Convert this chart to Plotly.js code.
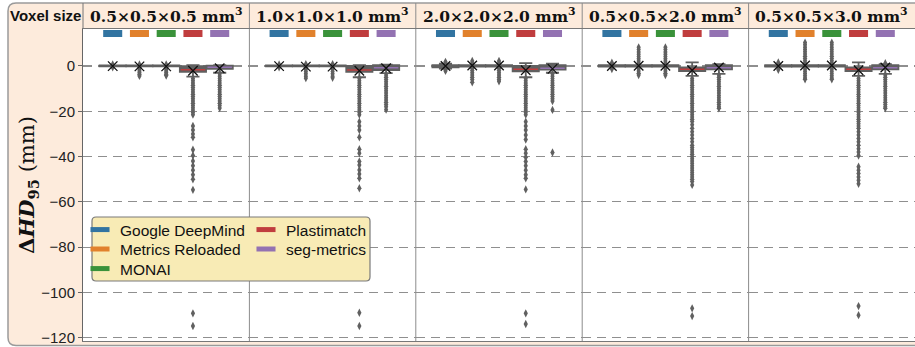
<!DOCTYPE html>
<html><head><meta charset="utf-8">
<script src="https://cdn.plot.ly/plotly-3.0.1.min.js"></script>
<style>html,body{margin:0;padding:0;background:#fff}</style>
</head><body>
<div id="chart" style="width:915px;height:347px"></div>
<script>
// ---------------- data ----------------
const tools = ['Google DeepMind', 'Metrics Reloaded', 'MONAI', 'Plastimatch', 'seg-metrics'];
const voxelSizes = ['0.5×0.5×0.5', '1.0×1.0×1.0', '2.0×2.0×2.0', '0.5×0.5×2.0', '0.5×0.5×3.0'];
const yTicks = [0, -20, -40, -60, -80, -100, -120];

// box statistics: one row per voxel size, one column per tool
const q1 = [
  [-0.2, -0.2, -0.2, -2.6, -1.3],
  [-0.2, -0.2, -0.2, -2.6, -1.8],
  [-0.6, -0.3, -0.3, -2.4, -1.6],
  [-0.3, -0.3, -0.3, -2.3, -1.5],
  [-0.3, -0.3, -0.3, -2.3, -1.5]];
const medians = [
  [0, 0, 0, -1.7, -0.6],
  [0, 0, 0, -1.8, -0.8],
  [0, 0, 0, -1.5, -1.0],
  [0, 0, 0, -1.5, -0.8],
  [0, 0, 0, -1.5, -0.8]];
const q3 = [
  [0.2, 0.2, 0.2, -0.1, 0.1],
  [0.2, 0.2, 0.2, 0.0, 0.4],
  [0.4, 0.3, 0.3, 0.0, 0.3],
  [0.3, 0.4, 0.4, -0.6, 0.3],
  [0.3, 0.4, 0.4, -0.6, 0.3]];
const lowerFence = [
  [-0.2, -0.2, -0.2, -4.7, -3.0],
  [-0.2, -0.2, -0.2, -5.0, -3.2],
  [-1.2, -0.3, -0.3, -5.0, -3.0],
  [-0.3, -0.3, -0.3, -4.4, -3.5],
  [-0.3, -0.3, -0.3, -4.4, -3.5]];
const upperFence = [
  [0.2, 0.2, 0.2, 0.3, 0.3],
  [0.2, 0.2, 0.2, 0.3, 0.6],
  [1.0, 0.3, 0.3, 1.2, 1.0],
  [0.3, 0.4, 0.4, 1.6, 0.8],
  [0.3, 0.4, 0.4, 1.6, 0.8]];
const means = [
  [-0.1, -0.2, -0.2, -2.1, -1.0],
  [-0.1, -0.3, -0.3, -2.1, -1.0],
  [0.0, 0.2, 0.2, -1.9, -1.3],
  [0.0, 0.1, 0.1, -1.9, -0.7],
  [0.0, 0.2, 0.2, -1.9, -0.7]];

// outliers (fliers): [voxel size][tool]
const outliers = [
  [ // 0.5x0.5x0.5
    [0.6, -0.6],
    [0.6, -0.6, -1.4, -2.2, -3.0, -3.8, -4.4],
    [0.6, -0.6, -1.4, -2.2, -3.0, -3.8, -4.2],
    [-5.5, -6.5, -7.5, -8.5, -9.5, -10.5, -11.5, -12.5, -13.5, -14.5, -15.5, -16.5, -17.5, -18.5, -19.5, -20.5, -21.5,
     -26.5, -28.3, -30.0, -31.5, -37.0, -39.5, -42.0, -44.0, -46.0, -48.0, -50.0, -54.7, -109.2, -114.8],
    [-3.5, -4.5, -5.5, -6.5, -7.5, -8.5, -9.5, -10.5, -11.5, -12.5, -13.5, -14.5, -15.5, -16.5, -17.5, -18.6]
  ],
  [ // 1.0x1.0x1.0
    [0.6, -0.6],
    [0.8, -0.6, -1.5, -2.5, -3.5, -4.5, -5.4],
    [0.8, -0.6, -1.5, -2.5, -3.5, -4.5, -5.2],
    [-5.5, -6.5, -7.5, -8.5, -9.5, -10.5, -11.5, -12.5, -13.5, -14.5, -15.5, -16.5, -17.5, -18.5, -19.5, -20.5, -21.5,
     -24.6, -26.5, -28.3, -31.5, -36.8, -38.5, -42.2, -43.7, -45.9, -47.7, -49.6, -54.0, -108.9, -114.8],
    [-4.0, -5.0, -6.0, -7.0, -8.0, -9.0, -10.0, -11.0, -12.0, -13.0, -14.0, -15.0, -16.0, -17.0, -18.0, -19.3]
  ],
  [ // 2.0x2.0x2.0
    [1.8, 1.2, -1.6, -2.2],
    [2.2, 1.2, -1.0, -2.0, -3.0, -4.0, -5.0, -6.0, -7.2],
    [2.2, 1.2, -1.0, -2.0, -3.0, -4.0, -5.0, -6.0, -6.8],
    [-5.5, -6.5, -7.5, -8.5, -9.5, -10.5, -11.5, -12.5, -13.5, -14.5, -15.5, -16.5, -17.5, -18.5, -19.5, -20.5, -21.5,
     -24.6, -26.5, -28.3, -30.5, -32.5, -36.8, -38.5, -40.3, -42.2, -44.0, -46.0, -48.0, -49.6, -54.5, -109.2, -113.9],
    [-3.5, -4.5, -5.5, -6.5, -7.5, -8.5, -9.5, -10.5, -11.5, -12.5, -13.5, -14.5, -15.5, -19.4, -38.2]
  ],
  [ // 0.5x0.5x2.0
    [1.4, 0.6, -0.6, -1.4],
    [8.2, 7.2, 6.2, 5.2, 4.2, 3.2, 2.2, 1.2, -1.2, -2.2, -3.2, -4.0],
    [8.2, 7.2, 6.2, 5.2, 4.2, 3.2, 2.2, 1.2, -1.2, -2.2, -3.2, -4.0],
    [-5.5, -6.5, -7.5, -8.5, -9.5, -10.5, -11.5, -12.5, -13.5, -14.5, -15.5, -16.5, -17.5, -18.5, -19.5, -20.5, -21.5,
     -22.5, -23.5, -24.5, -26.0, -27.5, -29.0, -30.5, -32.0, -33.5, -35.0, -36.0, -37.0, -38.0, -39.0, -40.0, -41.0,
     -42.0, -43.0, -44.0, -45.0, -46.0, -47.0, -48.0, -49.0, -50.0, -51.0, -52.5, -107.0, -110.4],
    [-4.0, -5.0, -6.0, -7.0, -8.0, -9.0, -10.0, -11.0, -12.0, -13.0, -14.0, -15.0, -16.0, -17.0, -18.0, -18.7]
  ],
  [ // 0.5x0.5x3.0
    [1.5, 0.5, -0.5, -1.7],
    [10.3, 9.3, 8.3, 7.3, 6.3, 5.3, 4.3, 3.3, 2.3, 1.3, -1.3, -2.3, -3.3, -4.3, -5.3, -5.9],
    [10.3, 9.3, 8.3, 7.3, 6.3, 5.3, 4.3, 3.3, 2.3, 1.3, -1.3, -2.3, -3.3, -4.3, -5.3, -5.9],
    [-5.5, -6.5, -7.5, -8.5, -9.5, -10.5, -11.5, -12.5, -13.5, -14.5, -15.5, -16.5, -17.5, -18.5, -19.5, -20.5, -21.5,
     -22.5, -23.5, -24.5, -25.5, -26.5, -27.5, -29.0, -30.5, -32.0, -33.5, -35.0, -36.5, -38.0, -39.5,
     -44.5, -46.0, -47.5, -49.0, -50.5, -52.0, -106.0, -110.0],
    [1.2, -4.0, -5.0, -6.0, -7.0, -8.0, -9.0, -10.0, -11.0, -12.0, -13.0, -14.0, -15.0, -16.0, -17.0, -18.0, -18.7]
  ]
];

// ---------------- styles ----------------
const toolColors = ['#3274a1', '#e1812c', '#3a923a', '#c03d3e', '#9372b2'];
const legendRow = ['legend', 'legend2', 'legend3', 'legend', 'legend2'];
const GREY = '#606060';
const PEACH = '#fdebdc';
const SANS = '"Liberation Sans", Arial, sans-serif';
const SERIF = '"DejaVu Serif", serif';

const W = 915, H = 347, L = 83, T = 29, B = 6, R = 0;
const pw = W - L - R, ph = H - T - B;
const px2x = px => (px - L) / pw;
const py2y = py => (H - B - py) / ph;
const RECT_Y = 14.3;

const traces = [];
const idx = [0, 1, 2, 3, 4];
voxelSizes.forEach((vs, p) => {
  const xa = p === 0 ? 'x' : 'x' + (p + 1);
  traces.push({
    type: 'box', xaxis: xa, yaxis: 'y', x: idx,
    q1: q1[p], median: medians[p], q3: q3[p],
    lowerfence: lowerFence[p], upperfence: upperFence[p],
    boxpoints: false, width: 0.98, whiskerwidth: 0.5,
    fillcolor: GREY, line: {color: GREY, width: 1.8},
    showlegend: false, hoverinfo: 'skip'
  });
  tools.forEach((tool, t) => {
    traces.push({
      type: 'scatter', mode: 'markers', xaxis: xa, yaxis: 'y',
      x: outliers[p][t].map(() => t), y: outliers[p][t],
      marker: {symbol: 'diamond-tall', size: 6, color: GREY, line: {width: 0}},
      showlegend: false, hoverinfo: 'skip'
    });
  });
  const medIdx = idx.filter(t => q3[p][t] - q1[p][t] > 1);
  traces.push({
    type: 'scatter', mode: 'markers', xaxis: xa, yaxis: 'y',
    x: medIdx, y: medIdx.map(t => medians[p][t]),
    marker: {symbol: 'line-ew', size: 17.5, color: medIdx.map(t => toolColors[t]),
             line: {width: 1.5, color: medIdx.map(t => toolColors[t])}},
    showlegend: false, hoverinfo: 'skip'
  });
  traces.push({
    type: 'scatter', mode: 'markers', xaxis: xa, yaxis: 'y',
    x: idx, y: means[p],
    marker: {symbol: 'x-thin-open', size: 9.5, color: '#111', line: {width: 1.3, color: '#111'}},
    showlegend: false, hoverinfo: 'skip'
  });
  tools.forEach((tool, t) => {
    traces.push({
      type: 'scatter', mode: 'markers', xaxis: xa, yaxis: 'y',
      x: [t], y: [RECT_Y], name: tool,
      marker: {symbol: 'line-ew', size: 13.6, color: toolColors[t], line: {width: 7, color: toolColors[t]}},
      showlegend: p === 0, legend: legendRow[t],
      hoverinfo: 'skip'
    });
  });
});

function roundRect(x0, y0, x1, y1, r) { // pixel coords -> paper path
  const rx = r / pw, ry = r / ph;
  const a = px2x(x0), b = px2x(x1), top = py2y(y0), bot = py2y(y1);
  return `M${a + rx},${top} L${b - rx},${top} Q${b},${top} ${b},${top - ry} L${b},${bot + ry} Q${b},${bot} ${b - rx},${bot} ` +
         `L${a + rx},${bot} Q${a},${bot} ${a},${bot + ry} L${a},${top - ry} Q${a},${top} ${a + rx},${top} Z`;
}

const shapes = [
  {type: 'path', xref: 'paper', yref: 'paper', layer: 'below', path: roundRect(8, 3, 925, 345.5, 8),
   fillcolor: PEACH, line: {color: '#9a9a9a', width: 1.5}},
  {type: 'rect', xref: 'paper', yref: 'paper', layer: 'below', x0: 0, x1: 1, y0: 0, y1: 1,
   fillcolor: '#ffffff', line: {width: 0}}
];
for (let p = 1; p < 5; p++) {
  shapes.push({type: 'line', xref: 'paper', yref: 'paper', layer: 'below', x0: p / 5, x1: p / 5, y0: 0, y1: py2y(3),
               line: {color: '#8c8c8c', width: 1}});
}
shapes.push({type: 'line', xref: 'paper', yref: 'paper', layer: 'below', x0: 0, x1: 0, y0: 1, y1: py2y(3),
             line: {color: '#777', width: 1}});
shapes.push({type: 'path', xref: 'paper', yref: 'paper', layer: 'above', path: roundRect(92, 217, 370, 281, 4),
             fillcolor: '#f8ebb5', line: {color: '#7a7a7a', width: 1.2}});

const annotations = [
  {text: 'Voxel size', xref: 'paper', yref: 'paper', x: px2x(45.5), y: py2y(16), xanchor: 'center', yanchor: 'middle',
   showarrow: false, font: {family: SANS, size: 15, color: '#111', weight: 'bold'}}
];
voxelSizes.forEach((vs, p) => {
  annotations.push({text: '<b>' + vs + ' mm<sup>3</sup></b>', xref: 'paper', yref: 'paper',
    x: (p + 0.5) / 5, y: py2y(16), xanchor: 'center', yanchor: 'middle', showarrow: false,
    font: {family: SERIF, size: 15.5, color: '#111'}});
});

const legendBase = {xanchor: 'left', yanchor: 'middle', orientation: 'h', bgcolor: 'rgba(0,0,0,0)', borderwidth: 0,
  font: {family: SANS, size: 15.5, color: '#111'}, itemsizing: 'trace', entrywidth: 121, entrywidthmode: 'pixels'};

const layout = {
  width: W, height: H,
  margin: {l: L, r: R, t: T, b: B, pad: 0, autoexpand: false},
  paper_bgcolor: '#ffffff', plot_bgcolor: 'rgba(0,0,0,0)',
  showlegend: true,
  yaxis: {
    range: [-121.4, 16.3], tickvals: yTicks, showgrid: true, gridcolor: '#8f8f8f', gridwidth: 1.2,
    griddash: '9px,6px', zeroline: false, showline: true, linecolor: '#666', linewidth: 1,
    ticks: 'outside', ticklen: 4, tickcolor: '#666', ticklabeloverflow: 'allow',
    tickfont: {family: SANS, size: 15, color: '#222'},
    title: {text: '<b>Δ<i>HD</i><sub>95</sub></b> (mm)', font: {family: SERIF, size: 21, color: '#111'}, standoff: 0},
    automargin: false, fixedrange: true
  },
  legend: Object.assign({x: px2x(80), y: py2y(230)}, legendBase),
  legend2: Object.assign({x: px2x(80), y: py2y(249.5)}, legendBase),
  legend3: Object.assign({x: px2x(80), y: py2y(269)}, legendBase),
  shapes: shapes, annotations: annotations
};
for (let p = 0; p < 5; p++) {
  layout[p === 0 ? 'xaxis' : 'xaxis' + (p + 1)] = {
    domain: [p / 5, (p + 1) / 5], range: [-1.11, 5.11], anchor: 'y',
    showticklabels: false, ticks: '', showgrid: false, zeroline: false,
    showline: true, mirror: true, linecolor: '#777', linewidth: 1, fixedrange: true
  };
}

Plotly.newPlot('chart', traces, layout, {displayModeBar: false, staticPlot: true});
</script>
</body></html>
